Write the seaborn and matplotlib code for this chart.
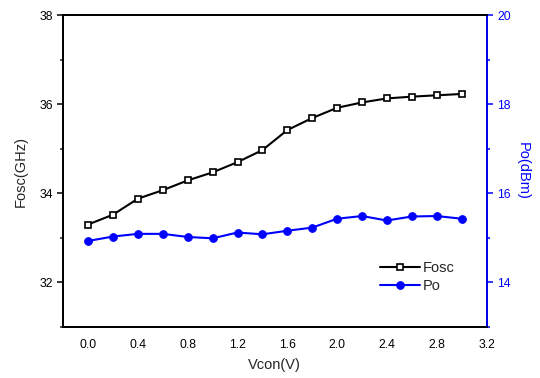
import numpy as np
import pandas as pd
import seaborn as sns
import matplotlib.pyplot as plt
from matplotlib.ticker import MultipleLocator

vcon = [0.0, 0.2, 0.4, 0.6, 0.8, 1.0, 1.2, 1.4, 1.6, 1.8, 2.0, 2.2, 2.4, 2.6, 2.8, 3.0]
fosc = [33.30, 33.52, 33.88, 34.07, 34.29, 34.47, 34.70, 34.97,
        35.42, 35.69, 35.92, 36.04, 36.13, 36.17, 36.20, 36.23]
po = [14.93, 15.03, 15.09, 15.09, 15.02, 14.99, 15.12, 15.08,
      15.16, 15.23, 15.43, 15.49, 15.39, 15.48, 15.49, 15.43]

df = pd.DataFrame({'vcon': vcon, 'fosc': fosc, 'po': po})

sns.set_style('white')
plt.rcParams['font.family'] = ['Liberation Sans', 'DejaVu Sans']

fig, ax = plt.subplots(figsize=(5.4, 3.78), dpi=100)
fig.subplots_adjust(left=0.117, right=0.901, bottom=0.135, top=0.960)

sns.lineplot(data=df, x='vcon', y='fosc', ax=ax, color='black', lw=1.5,
             marker='s', markersize=3.8, markerfacecolor='white',
             markeredgecolor='black', markeredgewidth=1.2, label='Fosc',
             legend=False)

ax2 = ax.twinx()
sns.lineplot(data=df, x='vcon', y='po', ax=ax2, color='#0000ff', lw=1.5,
             marker='o', markersize=5.5, markeredgecolor='#0000ff',
             label='Po', legend=False)

ax.set_xlim(-0.2, 3.2)
ax.set_ylim(31, 38)
ax2.set_ylim(13, 20)

ax.xaxis.set_minor_locator(MultipleLocator(0.2))
ax.yaxis.set_major_locator(MultipleLocator(2))
ax.yaxis.set_minor_locator(MultipleLocator(1))
ax2.yaxis.set_major_locator(MultipleLocator(2))
ax2.yaxis.set_minor_locator(MultipleLocator(1))

xt = np.arange(0, 3.21, 0.4)
ax.set_xticks(xt)
ax.set_xticklabels([f'{v:.1f}' for v in xt])

for a in (ax, ax2):
    for s in a.spines.values():
        s.set_linewidth(1.3)
        s.set_color('black')
ax2.spines['right'].set_color('#0000ff')

ax.tick_params(axis='both', which='major', direction='out', length=4,
               width=1.1, labelsize=8.8, colors='black')
ax.tick_params(axis='both', which='minor', direction='out', length=2.5,
               width=1.1)
ax.tick_params(axis='x', pad=5)
ax2.tick_params(axis='y', which='major', direction='out', length=4,
                width=1.1, labelsize=8.8, colors='#0000ff')
ax2.tick_params(axis='y', which='minor', direction='out', length=2.5,
                width=1.1, colors='#0000ff')
ax2.tick_params(axis='x', which='both', top=True, bottom=False,
                labeltop=False, labelbottom=False, direction='in',
                length=3, width=1.1)

ax.set_xlabel('Vcon(V)', fontsize=10.5, labelpad=5)
ax.set_ylabel('Fosc(GHz)', fontsize=10.5, labelpad=8)
ax2.set_ylabel('Po(dBm)', fontsize=10.5, color='#0000ff', rotation=270,
               labelpad=14)

h1, l1 = ax.get_legend_handles_labels()
h2, l2 = ax2.get_legend_handles_labels()
ax2.legend(h1 + h2, l1 + l2, loc='lower left', frameon=False, fontsize=10.5,
           handlelength=2.7, handletextpad=0.2, labelspacing=0.25,
           borderaxespad=0, bbox_to_anchor=(0.735, 0.09))

plt.savefig('out.png', dpi=100)
